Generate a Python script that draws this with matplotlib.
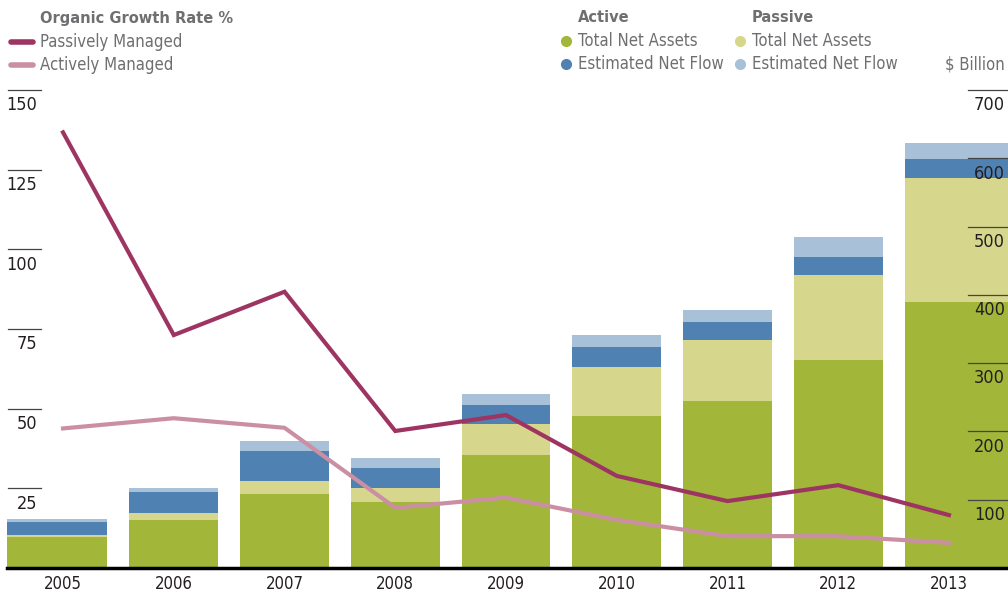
import matplotlib.pyplot as plt
import numpy as np
from matplotlib.lines import Line2D
from matplotlib import font_manager as fm

# pick a narrow face if one is installed
narrow = None
for f in fm.fontManager.ttflist:
    fn = f.fname.lower()
    if ('narrow' in fn or 'condensed' in fn) and 'mono' not in fn and 'serif' not in fn.replace('sans', ''):
        narrow = f
        break
if narrow is not None:
    plt.rcParams['font.family'] = [narrow.name, 'DejaVu Sans']
    plt.rcParams['font.stretch'] = narrow.stretch
    scale = 1.0
else:
    plt.rcParams['font.family'] = ['DejaVu Sans']
    scale = 0.9

years = ['2005', '2006', '2007', '2008', '2009', '2010', '2011', '2012', '2013']
# $ billion, stacked bottom to top
active_tna = [45.8, 70.3, 108.4, 96.7, 165.5, 222.6, 244.6, 304.6, 390.0]
passive_tna = [2.5, 10.2, 19.0, 20.5, 45.4, 71.7, 89.3, 124.5, 181.6]
active_flow = [19.1, 30.8, 43.9, 29.2, 27.8, 29.3, 26.3, 26.3, 27.3]
passive_flow = [4.4, 5.9, 14.7, 14.7, 16.1, 17.6, 17.6, 29.3, 23.9]
# organic growth rate %
passive_growth = [136.7, 73.1, 86.7, 43.0, 48.0, 28.9, 21.0, 26.0, 16.6]
active_growth = [43.8, 47.0, 44.0, 18.9, 22.1, 15.1, 10.0, 10.0, 7.9]

left_ticks = [25, 50, 75, 100, 125, 150]
right_ticks = [100, 200, 300, 400, 500, 600, 700]

c_green = '#A2B63A'
c_yellow = '#D6D78C'
c_blue = '#4F81B2'
c_lblue = '#A8C1D8'
c_passive = '#9E3462'
c_active = '#CB8FA4'
c_grey = '#6E6F71'
c_num = '#231F20'

W, H = 1008, 595
fig = plt.figure(figsize=(W / 100, H / 100), dpi=100)
ax = fig.add_axes([7 / W, 27 / H, 1001 / W, 478 / H])
xlim = (-0.506, 8.533)
ax.set_xlim(xlim)
ax.set_ylim(0, 700)

x = np.arange(len(years))
width = 0.8
lefts = x - width / 2
rights = x + width / 2
lefts[0] = xlim[0]
rights[-1] = xlim[1]
widths = rights - lefts

bottom = np.zeros(len(years))
for vals, col in [(active_tna, c_green), (passive_tna, c_yellow),
                  (active_flow, c_blue), (passive_flow, c_lblue)]:
    ax.bar(lefts, vals, widths, bottom=bottom, align='edge', color=col, lw=0, zorder=2)
    bottom += np.array(vals)

for s in ax.spines.values():
    s.set_visible(False)
ax.set_yticks([])
ax.set_xticks(x, years, fontsize=12 * scale, color=c_num)
ax.tick_params(axis='x', length=0, pad=5)
ax.axhline(0, color='black', lw=2.5, zorder=5, clip_on=False)

# right axis ticks ($ billion)
ytr = ax.get_yaxis_transform()
for v in right_ticks:
    ax.plot([0.960, 1.0], [v, v], color='#444444', lw=0.9, transform=ytr, zorder=6, clip_on=False)
    ax.annotate(str(v), xy=(0.997, v), xycoords=ytr, xytext=(0, -11), textcoords='offset points',
                ha='right', va='center', fontsize=13 * scale, color=c_num, zorder=6)

ax2 = ax.twinx()
ax2.set_xlim(xlim)
ax2.set_ylim(0, 150)
ax2.set_axis_off()
ax2.plot(x, active_growth, color=c_active, lw=3, solid_joinstyle='miter', zorder=3)
ax2.plot(x, passive_growth, color=c_passive, lw=3, solid_joinstyle='miter', zorder=4)

ytl = ax2.get_yaxis_transform()
for v in left_ticks:
    ax2.plot([0.001, 0.034], [v, v], color='#444444', lw=0.9, transform=ytl, clip_on=False)
    ax2.annotate(str(v), xy=(0.030, v), xycoords=ytl, xytext=(0, -11), textcoords='offset points',
                 ha='right', va='center', fontsize=13 * scale, color=c_num)

# legends
def px(xp, yp):
    return xp / W, 1 - yp / H

fig.text(*px(40, 18), 'Organic Growth Rate %', fontsize=11.7 * scale, fontweight='bold', color=c_grey, va='center')
for yy, col, lab in [(42, c_passive, 'Passively Managed'), (65, c_active, 'Actively Managed')]:
    fig.add_artist(Line2D([11 / W, 33 / W], [1 - yy / H] * 2, lw=4, color=col, solid_capstyle='round'))
    fig.text(*px(40, yy), lab, fontsize=12 * scale, color=c_grey, va='center')

for x0, head, cols in [(578, 'Active', (c_green, c_blue)), (752, 'Passive', (c_yellow, c_lblue))]:
    fig.text(*px(x0, 18), head, fontsize=11.7 * scale, fontweight='bold', color=c_grey, va='center')
    for yy, col, lab in [(41, cols[0], 'Total Net Assets'), (64, cols[1], 'Estimated Net Flow')]:
        fig.add_artist(Line2D([(x0 - 12) / W], [1 - yy / H], marker='o', ms=7, color=col, lw=0))
        fig.text(*px(x0, yy), lab, fontsize=12 * scale, color=c_grey, va='center')

fig.text(*px(1005, 64), '$ Billion', fontsize=12 * scale, color=c_grey, va='center', ha='right')

fig.savefig('out.png', dpi=100)
